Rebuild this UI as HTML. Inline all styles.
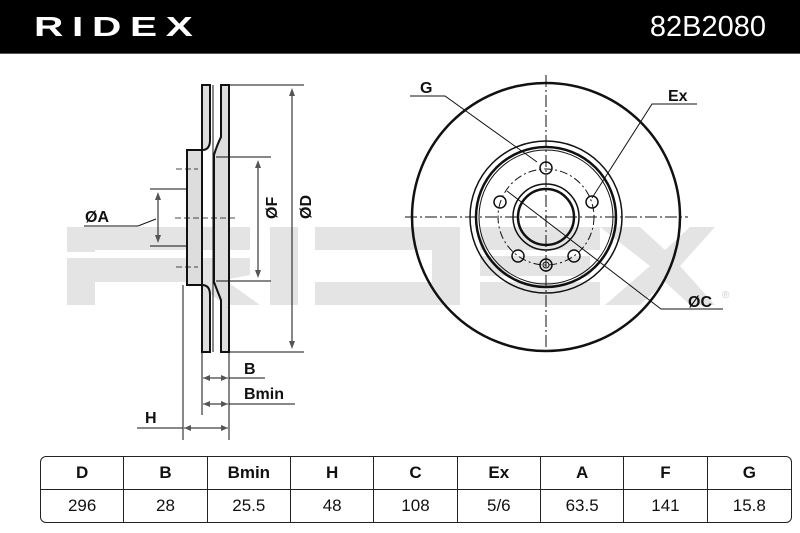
<!DOCTYPE html>
<html><head><meta charset="utf-8"><style>
html,body{margin:0;padding:0;background:#fff;}
body{width:800px;height:533px;overflow:hidden;position:relative;font-family:"Liberation Sans",sans-serif;}
.hdr{position:absolute;left:0;top:0;width:800px;height:53px;background:#000;border-bottom:1px solid #555;}
.logo{position:absolute;left:34px;top:11px;color:#fff;font-size:28px;font-weight:bold;letter-spacing:6px;transform:scaleX(1.45);transform-origin:left;}
.pn{position:absolute;right:34px;top:11px;color:#fff;font-size:29px;}
table{position:absolute;left:40px;top:456px;width:752px;height:67px;border-collapse:separate;border-spacing:0;border:1.5px solid #222;border-radius:6px;font-size:17px;table-layout:fixed;}
td{border-right:1px solid #222;text-align:center;color:#111;padding:0;}
td:last-child{border-right:none;}
tr:first-child td{border-bottom:1px solid #222;font-weight:bold;height:32px;}
</style></head><body>
<div class="hdr"><div class="logo">RIDEX</div><div class="pn">82B2080</div></div>
<svg width="800" height="533" style="position:absolute;left:0;top:0" font-family="Liberation Sans" font-weight="bold">
<g fill="#e4e4e4">
<path d="M67 227 H250 V250 H95 V252 H67Z"/>
<path d="M67 258 H250 V275 L225 280 L260 305 H225 L195 282 H95 V305 H67Z"/>
<rect x="270" y="227" width="28" height="78"/>
<path d="M315 227 H460 V305 H315 V282 H432 V250 H315Z"/>
<path d="M480 227 H600 V250 H480Z M480 256 H590 V276 H480Z M480 282 H600 V305 H480Z"/>
<path d="M600 227 H640 L665 250 L690 227 H715 L680 266 L715 305 H690 L665 282 L640 305 H605 L650 266Z"/>
</g>
<g stroke="#111" fill="none">
<circle cx="546" cy="217" r="134" stroke-width="2.5"/>
<circle cx="546" cy="217" r="76" stroke-width="1.5"/>
<circle cx="546" cy="217" r="70" stroke-width="2.5"/>
<circle cx="546" cy="217" r="67" stroke-width="1"/>
<circle cx="546" cy="217" r="33" stroke-width="1.5"/>
<circle cx="546" cy="217" r="28" stroke-width="2.5"/>
<circle cx="546" cy="217" r="48" stroke-width="1" stroke-dasharray="8 3 2 3"/>
<circle cx="546" cy="168" r="6" stroke-width="1.5"/>
<circle cx="500" cy="202" r="6" stroke-width="1.5"/>
<circle cx="592" cy="202" r="6" stroke-width="1.5"/>
<circle cx="518" cy="256" r="6" stroke-width="1.5"/>
<circle cx="574" cy="256" r="6" stroke-width="1.5"/>
<circle cx="546" cy="265" r="6" stroke-width="1.5"/>
<circle cx="546" cy="265" r="3" stroke-width="1"/>
<path d="M546 75 V355 M405 217 H688" stroke-width="1" stroke-dasharray="12 3 2 3"/>
<path d="M410 96 H445 L537 162" stroke-width="1"/>
<path d="M697 104 H652 L592 198" stroke-width="1"/>
<path d="M507 191 L661 309 H723" stroke-width="1"/>
<path d="M202 85 H210 V140 Q210 150 202 150 H187 V285 H202 Q210 285 210 295 V352 H202Z" stroke-width="2" fill="#ddd"/>
<path d="M221 85 H229 V352 H221 V300 Q217 290 214 282 V155 Q217 145 221 137Z" stroke-width="2" fill="#ddd"/>
<path d="M213 85 V352" stroke-width="1"/>
<path d="M187 150 H202 M187 285 H202" stroke-width="1.5"/>
<path d="M229 85 H304 M229 352 H304 M216 157 H271 M216 281 H271 M150 189 H186 M150 246 H186" stroke-width="1"/>
<path d="M292 90 V347 M258 162 V276 M158 194 V241" stroke-width="1" fill="none"/>
<path d="M175 218 H236 M176 169 H198 M176 267 H198" stroke-width="0.8" stroke-dasharray="6 3"/>
<path d="M84 226 H138 L156 219" stroke-width="1"/>
<path d="M202 352 V415 M229 352 V440 M183 285 V440" stroke-width="1"/>
<path d="M203 378 H228 M203 404 H228 M184 428 H228 M229 378 H265 M229 404 H295 M137 428 H183" stroke-width="1"/>
</g>
<g fill="#555">
<path d="M292 88 L289 96 H295Z M292 349 L289 341 H295Z M258 160 L255 168 H261Z M258 278 L255 270 H261Z M158 192 L155 200 H161Z M158 243 L155 235 H161Z"/>
<path d="M203 378 L210 375 V381Z M228 378 L221 375 V381Z M203 404 L210 401 V407Z M228 404 L221 401 V407Z M184 428 L191 425 V431Z M228 428 L221 425 V431Z"/>
</g>
<g fill="#111" font-size="16">
<text x="85" y="222">ØA</text>
<text x="272" y="236" transform="rotate(-90 266 225)">ØF</text>
<text x="306" y="236" transform="rotate(-90 300 225)">ØD</text>
<text x="244" y="374">B</text>
<text x="244" y="399">Bmin</text>
<text x="145" y="423">H</text>
<text x="420" y="93">G</text>
<text x="668" y="101">Ex</text>
<text x="688" y="307">ØC</text>
</g>
<text x="722" y="298" font-size="10" fill="#ccc" font-weight="normal">®</text>
</svg>
<table>
<tr><td>D</td><td>B</td><td>Bmin</td><td>H</td><td>C</td><td>Ex</td><td>A</td><td>F</td><td>G</td></tr>
<tr><td>296</td><td>28</td><td>25.5</td><td>48</td><td>108</td><td>5/6</td><td>63.5</td><td>141</td><td>15.8</td></tr>
</table>
</body></html>
